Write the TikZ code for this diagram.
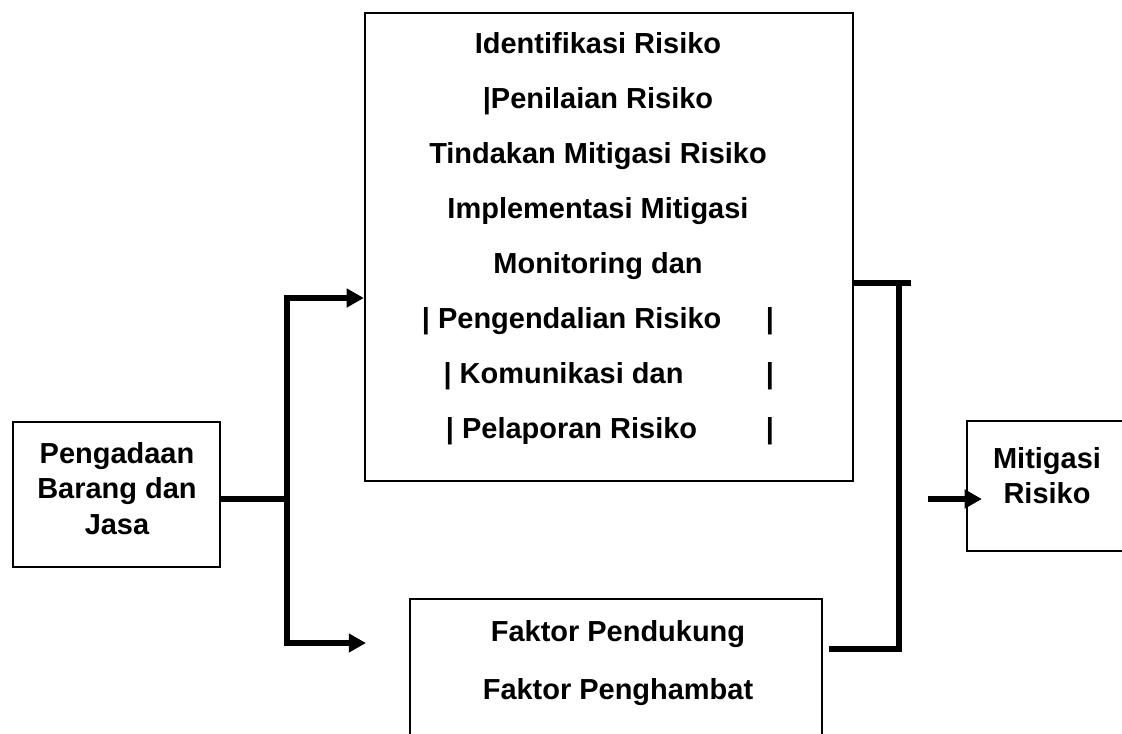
\documentclass[tikz,border=0pt]{standalone}
\usepackage{fontspec}
\setmainfont{Liberation Sans}
\usetikzlibrary{arrows.meta,calc}
\newcommand\barisbar[2]{\makebox[8.8cm][l]{\hspace*{#1}| #2\hfill|}}

\begin{document}
\begin{tikzpicture}[x=0.025cm,y=-0.025cm,
  kotak/.style={draw,line width=1.5pt,inner sep=0pt},
  teks/.style={font=\bfseries\fontsize{20.6}{#1}\selectfont,align=center,
    inner sep=0pt,anchor=north},
  garis/.style={line width=4.3pt},
  panah/.style={line width=4.3pt,-{Triangle[length=0.43cm,width=0.45cm]}},
  cabang2/.style={line width=4.3pt,
    {Triangle[length=0.43cm,width=0.45cm]}-{Triangle[length=0.43cm,width=0.45cm]}}
]
  \useasboundingbox (0,0) rectangle (1122,733);
  \clip (0,0) rectangle (1122,733);

  % Kotak
  \node[kotak,minimum width=5.175cm,minimum height=3.625cm] (pengadaan) at (116.5,494.5) {};
  \node[kotak,minimum width=12.2cm,minimum height=11.7cm] (proses) at (609,247) {};
  \node[kotak,minimum width=10.3cm,minimum height=4cm] (faktor) at (616,679) {};
  \node[kotak,minimum width=4.025cm,minimum height=3.25cm] (mitigasi) at (1047.5,486) {};

  % Teks
  \node[teks=25.2pt] (pengadaanTeks) at (117,442) {Pengadaan\\Barang dan\\Jasa};
  \node[teks=39.1pt] (prosesTeks) at (598,32) {Identifikasi Risiko\\
    |Penilaian Risiko\\
    Tindakan Mitigasi Risiko\\
    Implementasi Mitigasi\\
    Monitoring dan\\
    \barisbar{0pt}{Pengendalian Risiko}\\
    \barisbar{0.54cm}{Komunikasi dan}\\
    \barisbar{0.6cm}{Pelaporan Risiko}};
  \node[teks=41.2pt] (faktorTeks) at (618,620) {Faktor Pendukung\\Faktor Penghambat};
  \node[teks=24.9pt] (mitigasiTeks) at (1047,447) {Mitigasi\\Risiko};

  % Garis penghubung
  \coordinate (cabang) at (287,499);
  \coordinate (cabangAtas) at (287,298);
  \coordinate (cabangBawah) at (287,643);
  \coordinate (ujungBawah) at (366,643);
  \coordinate (gabungAtas) at (899,283);
  \coordinate (gabungBawah) at (899,649);
  \coordinate (ujungKanan) at (911,283);
  \coordinate (masuk) at (928,499);

  \draw[garis] (cabang -| pengadaan.east) -- (cabang);
  \draw[cabang2] (cabangAtas -| proses.west) -- (cabangAtas) -- (cabangBawah) -- (ujungBawah);
  \draw[garis] (gabungAtas -| proses.east) -- (ujungKanan);
  \draw[garis,shorten >=0.15cm] (gabungAtas) -- (gabungBawah) -- (gabungBawah -| faktor.east);
  \draw[panah,shorten >=-0.4cm] (masuk) -- (masuk -| mitigasi.west);
\end{tikzpicture}
\end{document}
